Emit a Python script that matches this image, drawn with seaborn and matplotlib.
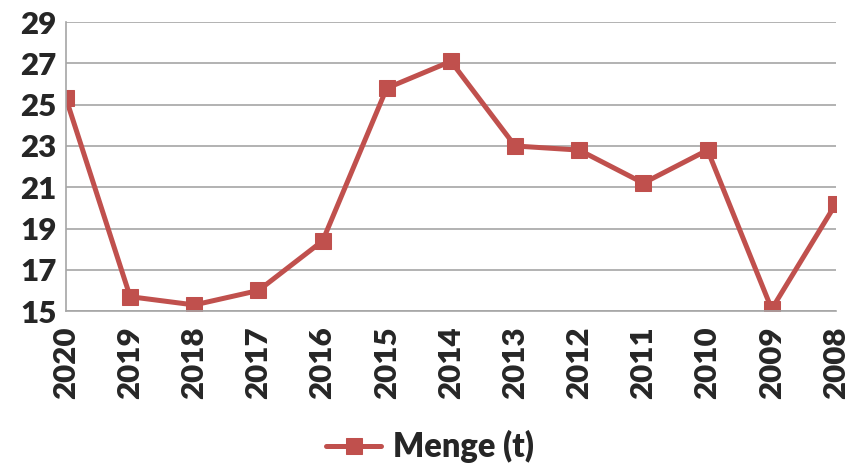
import seaborn as sns
import matplotlib.pyplot as plt
import pandas as pd

# Daten
jahre = ['2020', '2019', '2018', '2017', '2016', '2015', '2014',
         '2013', '2012', '2011', '2010', '2009', '2008']
menge = [25.3, 15.7, 15.3, 16.0, 18.4, 25.8, 27.1,
         23.0, 22.8, 21.2, 22.8, 15.1, 20.2]
y_ticks = [15, 17, 19, 21, 23, 25, 27, 29]

df = pd.DataFrame({'Jahr': jahre, 'Menge (t)': menge})

sns.set_style('white')
plt.rcParams['font.family'] = ['Lato', 'DejaVu Sans']
plt.rcParams['font.weight'] = 'heavy'

fig = plt.figure(figsize=(8.46, 4.70), dpi=100)
ax = fig.add_axes([0.078, 0.338, 0.910, 0.615])

rot = '#C0504D'
sns.lineplot(data=df, x='Jahr', y='Menge (t)', ax=ax, sort=False,
             color=rot, linewidth=3.6, marker='s', markersize=11.5,
             markeredgecolor=rot, label='Menge (t)')

ax.set_xlim(0, len(jahre) - 1)
ax.set_ylim(15, 29)
ax.set_yticks(y_ticks)
ax.set_yticklabels([str(t) for t in y_ticks], fontsize=22.5, fontweight='heavy')
ax.set_xticks(range(len(jahre)))
ax.set_xticklabels(jahre, rotation=90, fontsize=22.5, fontweight='heavy')
ax.set_xlabel('')
ax.set_ylabel('')

# Gitter und Achsen
ax.grid(axis='y', color='#A6A6A6', linewidth=1.2)
ax.set_axisbelow(True)
for s in ['top', 'right']:
    ax.spines[s].set_visible(False)
for s in ['left', 'bottom']:
    ax.spines[s].set_color('#A6A6A6')
    ax.spines[s].set_linewidth(1.2)
ax.tick_params(axis='x', length=8, width=1.2, color='#A6A6A6', pad=3)
ax.tick_params(axis='y', length=0, pad=7)

ax.legend(loc='lower center', bbox_to_anchor=(0.508, -0.048), bbox_transform=fig.transFigure,
          frameon=False, handlelength=1.7, handletextpad=0.35,
          prop={'weight': 'heavy', 'size': 23.5})

plt.savefig('out.png', dpi=100)
